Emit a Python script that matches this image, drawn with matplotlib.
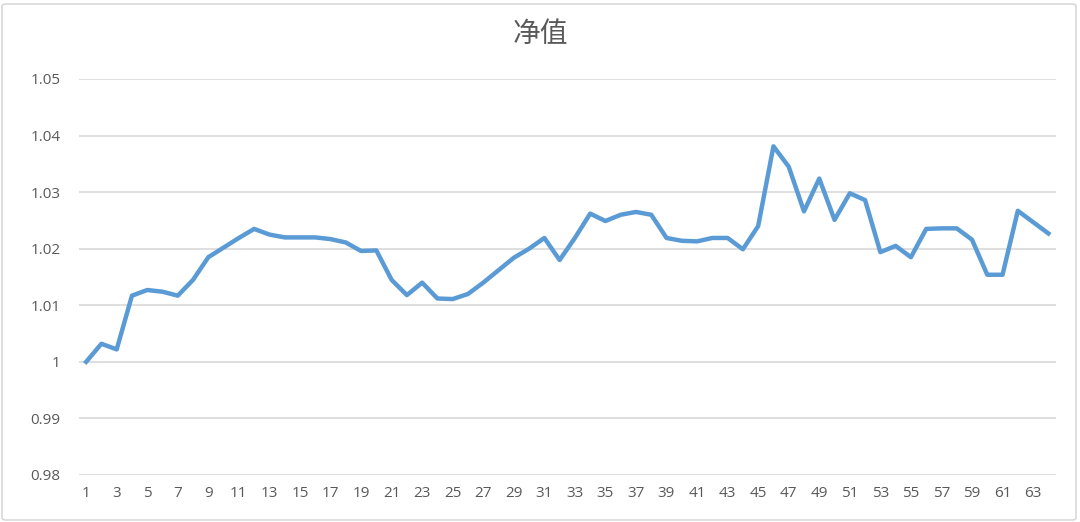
import matplotlib
matplotlib.use("Agg")
import matplotlib.pyplot as plt
from matplotlib.patches import FancyBboxPatch

plt.rcParams['font.family'] = ['Open Sans', 'Noto Sans CJK SC', 'DejaVu Sans']

title = "净值"
x = list(range(1, 65))
values = [1.0000, 1.0032, 1.0022, 1.0117, 1.0127, 1.0124, 1.0117, 1.0145, 1.0185, 1.0202,
          1.0219, 1.0235, 1.0225, 1.0220, 1.0220, 1.0220, 1.0217, 1.0211, 1.0196, 1.0197,
          1.0145, 1.0118, 1.0140, 1.0112, 1.0111, 1.0120, 1.0140, 1.0162, 1.0184, 1.0200,
          1.0219, 1.0180, 1.0219, 1.0262, 1.0249, 1.0260, 1.0265, 1.0260, 1.0219, 1.0214,
          1.0213, 1.0219, 1.0219, 1.0199, 1.0240, 1.0381, 1.0345, 1.0266, 1.0324, 1.0251,
          1.0298, 1.0286, 1.0194, 1.0205, 1.0185, 1.0235, 1.0236, 1.0236, 1.0216, 1.0154,
          1.0154, 1.0267, 1.0247, 1.0227]
yticks = [0.98, 0.99, 1.00, 1.01, 1.02, 1.03, 1.04, 1.05]
ytick_labels = ["0.98", "0.99", "1", "1.01", "1.02", "1.03", "1.04", "1.05"]
xticks = list(range(1, 65, 2))

fig = plt.figure(figsize=(10.8, 5.22), dpi=100)
ax = fig.add_axes([78.5/1080, 1-475/522, (1056-78.5)/1080, (475-79)/522])

ax.plot(x, values, color='#5B9BD5', linewidth=3.2, solid_joinstyle='round', zorder=3)
ax.set_xlim(0.5, 64.5)
ax.set_ylim(0.98, 1.05)
ax.set_yticks(yticks)
ax.set_yticklabels(ytick_labels)
ax.set_xticks(xticks)
ax.set_xticklabels([str(v) for v in xticks])
ax.grid(axis='y', color='#D9D9D9', linewidth=1.2)
ax.set_axisbelow(True)
for s in ax.spines.values():
    s.set_visible(False)
ax.tick_params(axis='both', length=0, colors='#595959', labelsize=11)
ax.tick_params(axis='y', pad=13)
ax.tick_params(axis='x', pad=8)

fig.text(0.5, 1-35/522, title, ha='center', va='center', fontsize=20, color='#595959')

border = FancyBboxPatch((2/1080, 2/522), 1074/1080, 516/522, boxstyle="round,pad=0,rounding_size=0.004",
                        transform=fig.transFigure, fill=False, edgecolor='#D9D9D9', linewidth=1.2)
fig.patches.append(border)

fig.savefig("out.png", dpi=100)
